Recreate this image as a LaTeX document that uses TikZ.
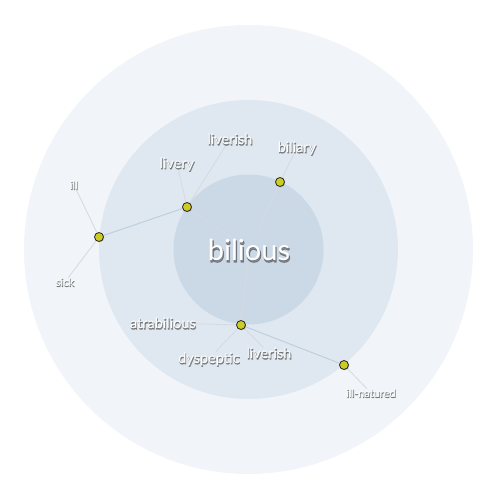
\documentclass[tikz,border=0pt]{standalone}
\usepackage{fontspec}
\setmainfont{Lato}
\usetikzlibrary{shadows}
\pgfdeclarelayer{circ}\pgfdeclarelayer{edge}
\pgfsetlayers{circ,edge,main}
\definecolor{ringA}{RGB}{241,245,249}
\definecolor{ringB}{RGB}{223,231,240}
\definecolor{ringC}{RGB}{203,217,231}
\definecolor{edgegrey}{RGB}{214,218,222}
\definecolor{edgeblue}{RGB}{185,206,224}
\definecolor{dotyellow}{RGB}{204,204,34}
\tikzset{
  dotnode/.style={circle, fill=dotyellow, draw=black!85, line width=0.8pt, minimum size=9pt, inner sep=0pt,
    drop shadow={shadow xshift=0.8pt, shadow yshift=-0.8pt, opacity=0.35}},
  gline/.style={draw=edgegrey, line width=0.8pt},
  bline/.style={draw=edgeblue, line width=0.9pt},
}
\newcommand\glab[5]{% name, x,y, size, shadow offset, text
  \node[font={\fontsize{#3}{#3}\selectfont\addfontfeature{FakeBold=3}}, text=black!70, text opacity=0.55, inner sep=0pt]
    at ([xshift=0.5*#4pt,yshift=-#4pt]#2) {#5};
  \node[font={\fontsize{#3}{#3}\selectfont}, text=white, inner sep=0pt] (#1) at (#2) {#5};}
\begin{document}
\begin{tikzpicture}[x=1pt,y=-1pt]
\useasboundingbox (0,0) rectangle (500,500);
\begin{pgfonlayer}{circ}
  \fill[white] (0,0) rectangle (500,500);
  \fill[ringA] (248.5,249.5) circle[radius=224.5];
  \fill[ringB] (248.5,249.5) circle[radius=149.5];
  \fill[ringC] (248.5,249.5) circle[radius=75];
\end{pgfonlayer}
% labels
\glab{bil}{249,250}{29}{1.6}{bilious}
\glab{livery}{177,164}{14.5}{1.1}{livery}
\glab{liverishA}{230,139}{14.5}{1.1}{liverish}
\glab{biliary}{297,148}{14.5}{1.1}{biliary}
\glab{ill}{74,185}{11}{0.9}{ill}
\glab{sick}{65,282}{11}{0.9}{sick}
\glab{atra}{163,323}{14.5}{1.1}{atrabilious}
\glab{dysp}{209,359}{14.5}{1.1}{dyspeptic}
\glab{liverishB}{269,353}{14.5}{1.1}{liverish}
\glab{illnat}{371,393}{11}{0.9}{ill-natured}
% dots
\node[dotnode] (A) at (187,207) {};
\node[dotnode] (B) at (99,237) {};
\node[dotnode] (C) at (280,182) {};
\node[dotnode] (D) at (241,325) {};
\node[dotnode] (E) at (344,365) {};
\begin{pgfonlayer}{edge}
  \draw[gline] (A.center) -- (livery);
  \draw[gline] (A.center) -- (liverishA);
  \draw[gline] (A.center) -- (bil);
  \draw[bline] (A.center) -- (B.center);
  \draw[gline] (B.center) -- (ill);
  \draw[gline] (B.center) -- (sick);
  \draw[gline] (C.center) -- (biliary);
  \draw[gline] (C.center) -- (bil);
  \draw[gline] (D.center) -- (bil);
  \draw[gline] (D.center) -- (atra);
  \draw[gline] (D.center) -- (dysp);
  \draw[gline] (D.center) -- (liverishB);
  \draw[bline] (D.center) -- (E.center);
  \draw[gline] (E.center) -- (illnat);
\end{pgfonlayer}
\end{tikzpicture}
\end{document}
